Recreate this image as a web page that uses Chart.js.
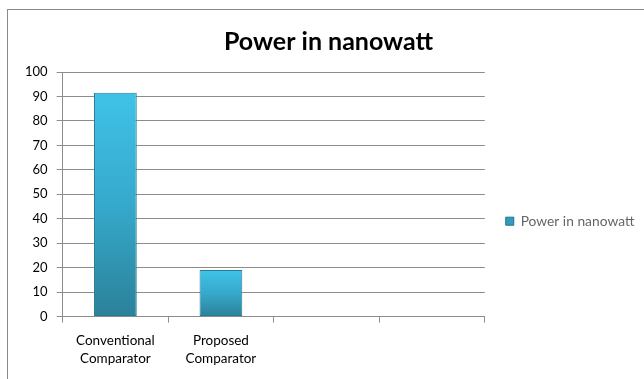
<!DOCTYPE html>
<html>
<head>
<meta charset="utf-8">
<script src="https://cdn.jsdelivr.net/npm/chart.js@4"></script>
<style>
  html, body { margin: 0; padding: 0; background: #fff; overflow: hidden; }
  #wrap { position: relative; width: 644px; height: 379px; }
  #frame { position: absolute; left: 7px; top: 9px; width: 660px; height: 400px; border: 1px solid #8a8a8a; box-sizing: border-box; }
  canvas { position: absolute; left: 0; top: 0; }
</style>
</head>
<body>
<div id="wrap">
  <div id="frame"></div>
  <canvas id="chart" width="644" height="379"></canvas>
</div>
<script>
// 数据
const categories = [['Conventional', 'Comparator'], ['Proposed', 'Comparator'], '', ''];
const powerValues = [91.5, 19, null, null];
const seriesName = 'Power in nanowatt';
const yTicks = [0, 10, 20, 30, 40, 50, 60, 70, 80, 90, 100];

const FONT = 'Lato, "Open Sans", sans-serif';
const GRID = '#8c8c8c';

// 每根柱子自己的竖向渐变（上亮下暗）
function barFill(ctx) {
    const chart = ctx.chart;
    if (!chart.chartArea || ctx.raw == null) return '#37ABCF';
    const y = chart.scales.y;
    const top = y.getPixelForValue(ctx.raw);
    const bottom = y.getPixelForValue(0);
    const g = chart.ctx.createLinearGradient(0, top, 0, bottom);
    g.addColorStop(0, '#3fc2e7');
    g.addColorStop(0.5, '#36a9cc');
    g.addColorStop(1, '#2b8199');
    return g;
}

new Chart(document.getElementById('chart'), {
    type: 'bar',
    data: {
        labels: categories,
        datasets: [{
            label: seriesName,
            data: powerValues,
            backgroundColor: barFill,
            borderColor: '#2a7b92',
            borderWidth: 1,
            borderSkipped: false,
            categoryPercentage: 1,
            barPercentage: 0.405
        }]
    },
    options: {
        responsive: false,
        animation: false,
        layout: { padding: { left: 16, right: 3, top: 27, bottom: 2 } },
        plugins: {
            title: {
                display: true,
                text: seriesName,
                color: '#000',
                font: { family: FONT, size: 25, weight: 'bold' },
                padding: { top: 0, bottom: 15 }
            },
            legend: {
                position: 'right',
                title: { display: true, text: ' ', font: { size: 12 }, padding: { top: 12, bottom: 12 } },
                labels: {
                    color: '#000',
                    font: { family: FONT, size: 13.8 },
                    boxWidth: 8,
                    boxHeight: 8,
                    padding: 21,
                    generateLabels: function(chart) {
                        return [{
                            text: seriesName,
                            fillStyle: '#2f9cbd',
                            strokeStyle: '#22718a',
                            lineWidth: 1,
                            datasetIndex: 0
                        }];
                    }
                }
            },
            tooltip: { enabled: false }
        },
        scales: {
            x: {
                grid: { offset: true, drawOnChartArea: false, color: GRID, tickLength: 6 },
                border: { color: GRID },
                ticks: { color: '#000', font: { family: FONT, size: 13.5, lineHeight: 1.35 }, padding: 9, maxRotation: 0 }
            },
            y: {
                min: 0,
                max: 100,
                afterBuildTicks: function(axis) {
                    axis.ticks = yTicks.map(v => ({ value: v }));
                },
                grid: { color: GRID, tickLength: 6 },
                border: { color: GRID },
                ticks: { color: '#000', font: { family: FONT, size: 13 }, padding: 9 }
            }
        }
    }
});
</script>
</body>
</html>
